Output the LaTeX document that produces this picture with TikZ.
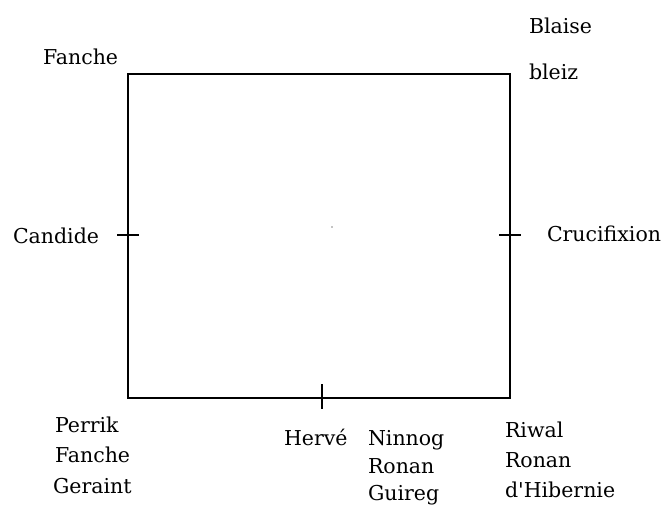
\documentclass[tikz,border=0pt]{standalone}
\usepackage{fontspec}
\setmainfont{DejaVu Serif}
\begin{document}
\begin{tikzpicture}[x=1pt,y=-1pt,
  lbl/.style={anchor=base west,inner sep=0pt,outer sep=0pt,font=\fontsize{20.5}{24}\selectfont},
  frame/.style={line width=1.3pt,black},
  tick/.style={line width=1.3pt,black}]
\useasboundingbox[fill=white] (0,0) rectangle (664,504);
% frame
\coordinate (tl) at (128,74);
\coordinate (br) at (510,398);
\draw[frame] (tl) rectangle (br);
% ticks
\coordinate (lt1) at (117,235); \coordinate (lt2) at (139,235);
\coordinate (rt1) at (499,235); \coordinate (rt2) at (521,235);
\coordinate (bt1) at (322,384); \coordinate (bt2) at (322,409);
\draw[tick] (lt1) -- (lt2);
\draw[tick] (rt1) -- (rt2);
\draw[tick] (bt1) -- (bt2);
% centre dot
\fill (332,227) circle (0.6pt);
% labels
\node[lbl] (fanche) at (43,64) {Fanche};
\node[lbl] (blaise) at (529,33) {Blaise};
\node[lbl] (bleiz) at (529,79) {bleiz};
\node[lbl] (candide) at (13,243) {Candide};
\node[lbl] (cruci) at (547,241) {Crucifixion};
\node[lbl] (perrik) at (55,432) {Perrik};
\node[lbl] (fanche2) at (55,462) {Fanche};
\node[lbl] (geraint) at (53,493) {Geraint};
\node[lbl] (herve) at (284,445) {Hervé};
\node[lbl] (ninnog) at (368,445) {Ninnog};
\node[lbl] (ronan1) at (368,473) {Ronan};
\node[lbl] (guireg) at (368,500) {Guireg};
\node[lbl] (riwal) at (505,437) {Riwal};
\node[lbl] (ronan2) at (505,467) {Ronan};
\node[lbl] (hibernie) at (505,497) {d\textquotesingle Hibernie};
\end{tikzpicture}
\end{document}
